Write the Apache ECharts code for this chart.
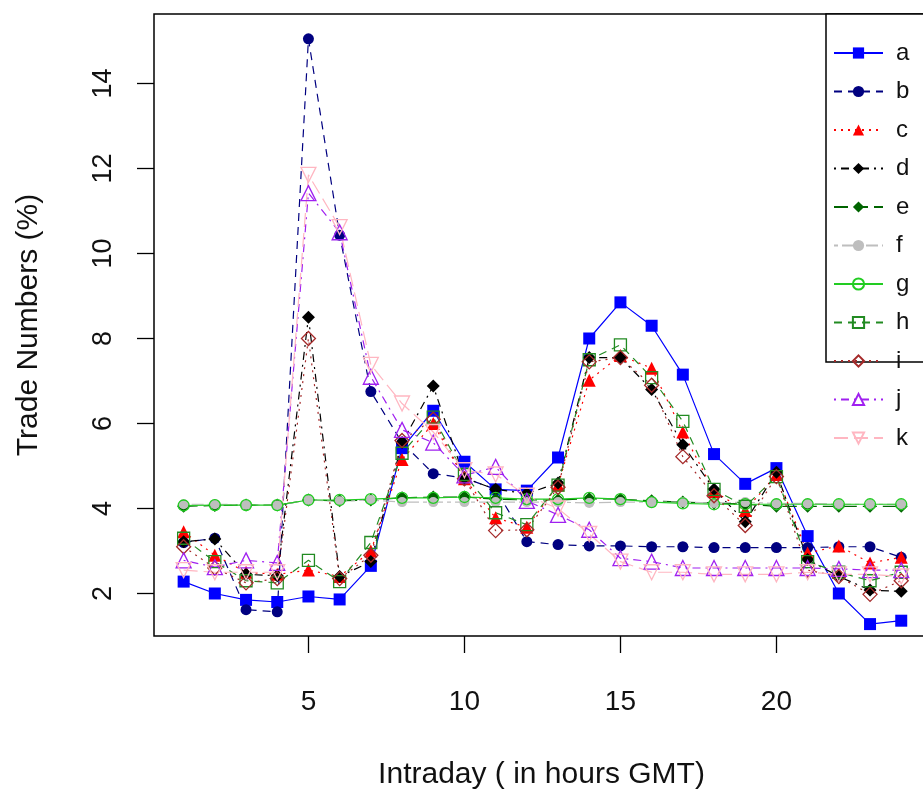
<!DOCTYPE html>
<html>
<head>
<meta charset="utf-8">
<script src="https://cdn.jsdelivr.net/npm/echarts@6/dist/echarts.min.js"></script>
<style>
html,body{margin:0;padding:0;background:#fff;}
#chart{width:923px;height:794px;}
</style>
</head>
<body>
<div id="chart"></div>
<script>
const hours = [1,2,3,4,5,6,7,8,9,10,11,12,13,14,15,16,17,18,19,20,21,22,23,24];
const seriesNames = ['a','b','c','d','e','f','g','h','i','j','k'];
const xTicks = [5,10,15,20];
const yTicks = [2,4,6,8,10,12,14];

const a = [2.28,2.0,1.85,1.8,1.93,1.86,2.65,5.42,6.3,5.1,4.45,4.42,5.2,8.0,8.85,8.3,7.15,5.28,4.58,4.95,3.35,2.0,1.28,1.36];
const b = [3.2,3.3,1.62,1.57,15.05,10.43,6.75,5.55,4.82,4.72,4.45,3.22,3.15,3.12,3.12,3.1,3.1,3.08,3.08,3.08,3.08,3.1,3.1,2.85];
const c = [3.45,2.9,2.5,2.45,2.55,2.4,3.0,5.15,6.0,4.7,3.78,3.56,4.55,7.02,7.6,7.3,5.8,4.4,3.95,4.8,2.95,3.12,2.72,2.85];
const d = [3.22,3.28,2.45,2.42,8.5,2.4,2.75,5.55,6.88,4.72,4.45,4.35,4.6,7.55,7.55,6.8,5.5,4.45,3.69,4.85,2.8,2.4,2.08,2.05];
const e = [4.05,4.07,4.08,4.08,4.2,4.18,4.2,4.25,4.27,4.27,4.22,4.2,4.2,4.23,4.22,4.18,4.15,4.13,4.1,4.05,4.05,4.05,4.05,4.05];
const f = [4.1,4.1,4.09,4.07,4.2,4.17,4.2,4.15,4.15,4.15,4.15,4.15,4.15,4.13,4.15,4.15,4.15,4.13,4.15,4.12,4.12,4.1,4.1,4.1];
const g = [4.07,4.08,4.08,4.08,4.2,4.2,4.22,4.25,4.25,4.27,4.25,4.22,4.22,4.25,4.22,4.15,4.12,4.1,4.1,4.1,4.1,4.1,4.1,4.1];
const h = [3.3,2.75,2.3,2.25,2.78,2.28,3.2,5.3,6.15,4.8,3.9,3.62,4.55,7.5,7.85,7.08,6.05,4.45,4.05,4.75,2.75,2.5,2.3,2.5];
const i = [3.1,2.6,2.25,2.35,8.0,2.35,2.9,5.6,6.1,4.7,3.48,3.5,4.5,7.45,7.55,6.9,5.22,4.3,3.6,4.75,2.55,2.4,1.98,2.3];
const j = [2.78,2.62,2.78,2.72,11.42,10.5,7.1,5.85,5.55,4.78,4.98,4.18,3.85,3.5,2.83,2.75,2.6,2.6,2.6,2.6,2.6,2.58,2.55,2.55];
const k = [2.55,2.5,2.5,2.5,11.85,10.62,7.38,6.47,5.8,4.9,4.8,4.3,4.0,3.4,2.75,2.5,2.5,2.45,2.45,2.45,2.5,2.45,2.45,2.4];

const values = [a,b,c,d,e,f,g,h,i,j,k];

const DASH = [8,6], DOT = [2,5], DOTDASH = [2,5,8,5], LONGDASH = [14,6], TWODASH = [4,4,12,4];
const styles = [
  {color:'#0000ff', dash:'solid',  symbol:'rect',     size:12, filled:true},
  {color:'#000080', dash:DASH,     symbol:'circle',   size:11, filled:true},
  {color:'#ff0000', dash:DOT,      symbol:'triangle', size:13, filled:true},
  {color:'#000000', dash:DOTDASH,  symbol:'diamond',  size:13, filled:true},
  {color:'#006400', dash:LONGDASH, symbol:'diamond',  size:13, filled:true},
  {color:'#bebebe', dash:TWODASH,  symbol:'circle',   size:10, filled:true},
  {color:'#22cc22', dash:'solid',  symbol:'circle',   size:11, filled:false},
  {color:'#228b22', dash:DASH,     symbol:'rect',     size:12, filled:false},
  {color:'#a52a2a', dash:DOT,      symbol:'diamond',  size:14, filled:false},
  {color:'#a020f0', dash:DOTDASH,  symbol:'triangle', size:15, filled:false},
  {color:'#ffb6c1', dash:LONGDASH, symbol:'triangle', size:15, filled:false, rotate:180}
];

const series = seriesNames.map((name, idx) => {
  const s = styles[idx];
  return {
    name: name,
    type: 'line',
    data: hours.map((hh, n) => [hh, values[idx][n]]),
    symbol: s.symbol,
    symbolSize: s.size,
    symbolRotate: s.rotate || 0,
    showAllSymbol: true,
    animation: false,
    lineStyle: {color: s.color, width: 1.2, type: s.dash},
    itemStyle: s.filled ? {color: s.color, borderColor: s.color, borderWidth: 0}
                        : {color: 'rgba(255,255,255,0)', borderColor: s.color, borderWidth: 1.3},
    emphasis: {disabled: true}
  };
});

const chart = echarts.init(document.getElementById('chart'), null, {renderer: 'canvas'});
chart.setOption({
  backgroundColor: '#ffffff',
  animation: false,
  textStyle: {fontFamily: 'Liberation Sans, Arial, sans-serif'},
  grid: {left: 154, top: 14, bottom: 158, width: 775, outerBoundsMode: 'none', containLabel: false,
         show: true, borderColor: '#000', borderWidth: 1.5, backgroundColor: '#fff'},
  xAxis: {
    type: 'value', min: 0.05, max: 24.89,
    name: 'Intraday ( in hours GMT)', nameLocation: 'middle', nameGap: 124,
    nameTextStyle: {fontSize: 30, color: '#111', fontFamily: 'Liberation Sans, Arial, sans-serif'},
    axisLine: {show: false},
    splitLine: {show: false},
    axisTick: {show: true, inside: false, length: 17, lineStyle: {color: '#000', width: 1.3}, customValues: xTicks},
    axisLabel: {show: true, fontSize: 28, color: '#111', margin: 52, customValues: xTicks, fontFamily: 'Liberation Sans, Arial, sans-serif'}
  },
  yAxis: {
    type: 'value', min: 1.0, max: 15.635,
    name: 'Trade Numbers (%)', nameLocation: 'middle', nameGap: 110, nameRotate: 90,
    nameTextStyle: {fontSize: 30, color: '#111', fontFamily: 'Liberation Sans, Arial, sans-serif'},
    axisLine: {show: false},
    splitLine: {show: false},
    axisTick: {show: true, inside: false, length: 17, lineStyle: {color: '#000', width: 1.3}, customValues: yTicks},
    axisLabel: {show: true, fontSize: 27, color: '#111', margin: 37, rotate: 90, customValues: yTicks, fontFamily: 'Liberation Sans, Arial, sans-serif'}
  },
  legend: {
    orient: 'vertical', left: 833, top: 41,
    itemWidth: 49, itemHeight: 14, itemGap: 14.5,
    padding: 0,
    textStyle: {fontSize: 24, color: '#111', padding: [0,0,0,8], fontFamily: 'Liberation Sans, Arial, sans-serif'},
    selectedMode: false,
    data: seriesNames,
    z: 10
  },
  graphic: [{
    type: 'rect', z: 5, silent: true,
    shape: {x: 826, y: 14, width: 130, height: 348},
    style: {fill: '#fff', stroke: '#000', lineWidth: 1.5}
  }],
  series: series
});
</script>
</body>
</html>
